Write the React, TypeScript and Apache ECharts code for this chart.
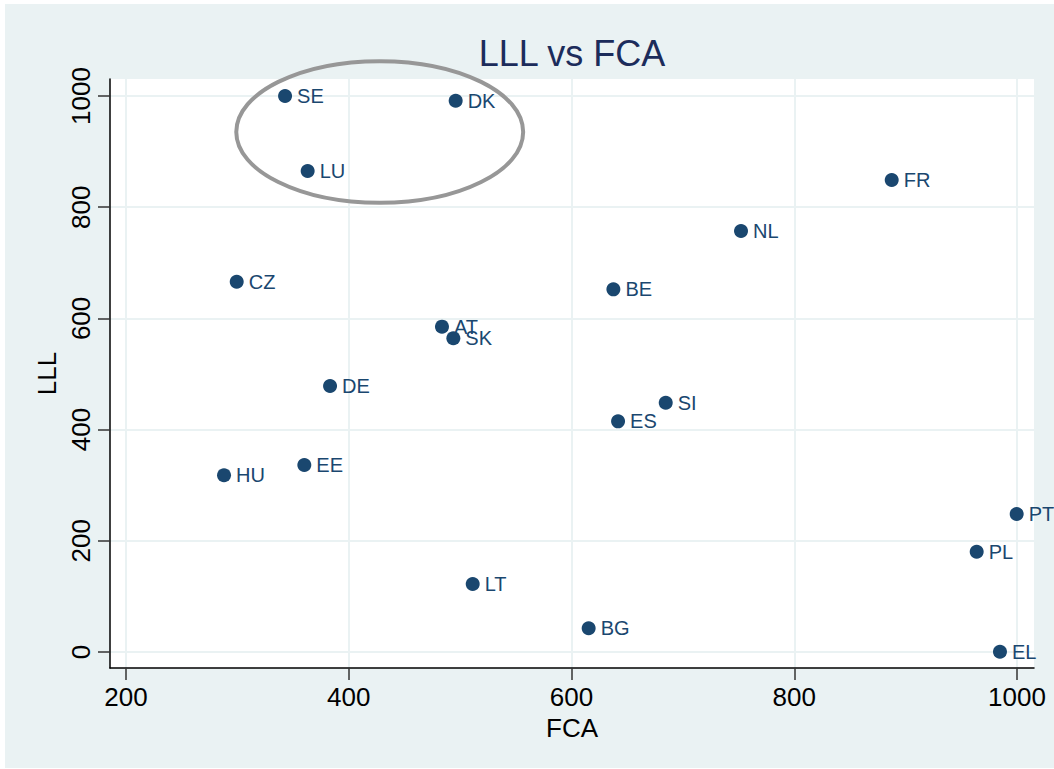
import React, { useEffect, useRef } from 'react';
import * as echarts from 'echarts';

const countries = ['SE', 'DK', 'LU', 'FR', 'NL', 'CZ', 'BE', 'AT', 'SK', 'DE', 'SI', 'ES', 'EE', 'HU', 'PT', 'PL', 'LT', 'BG', 'EL'];
const fca = [342.8, 496.0, 363.1, 887.5, 752.2, 299.4, 637.6, 483.7, 493.9, 383.2, 684.6, 641.8, 360.1, 288.0, 999.7, 963.8, 511.3, 615.4, 984.7];
const lll = [1000, 991.5, 865.1, 848.9, 757.2, 666.0, 652.3, 585.1, 564.2, 478.4, 448.4, 414.9, 336.3, 317.8, 248.2, 180.4, 122.3, 42.6, 0.5];
const xTicks = [200, 400, 600, 800, 1000];
const yTicks = [0, 200, 400, 600, 800, 1000];
// highlight ellipse in data units: centre (FCA, LLL) and radii
const ellipseCenter = [427.8, 935.3];
const ellipseRadius = [128.8, 127.4];

const FONT = '"Liberation Sans", Arial, Helvetica, sans-serif';
const NAVY = '#1a476f';
const GRID = '#eaf2f3';

export default function App() {
  const ref = useRef<HTMLDivElement>(null);
  useEffect(() => {
    document.body.style.margin = '0';
    const chart = echarts.init(ref.current!, null, { renderer: 'svg' });
    chart.setOption({
      animation: false,
      backgroundColor: '#ffffff',
      grid: { left: 110, top: 79, width: 924, height: 589, show: true, backgroundColor: '#ffffff', borderWidth: 0, containLabel: false },
      xAxis: {
        type: 'value', min: 185.63, max: 1015.26, position: 'bottom',
        name: 'FCA', nameLocation: 'middle', nameGap: 40,
        nameTextStyle: { fontFamily: FONT, fontSize: 26, color: '#000' },
        axisLine: { show: true, onZero: false, lineStyle: { color: '#000', width: 1.5 } },
        axisTick: { show: true, length: 12, customValues: xTicks, lineStyle: { color: '#333', width: 1.5 } },
        axisLabel: { customValues: xTicks, formatter: (v: number) => String(v), fontSize: 26, color: '#000', margin: 16, fontFamily: FONT },
        splitLine: { show: true, lineStyle: { color: GRID, width: 2 } },
      },
      yAxis: {
        type: 'value', min: -28.78, max: 1030.58, position: 'left',
        name: 'LLL', nameLocation: 'middle', nameGap: 48,
        nameTextStyle: { fontFamily: FONT, fontSize: 26, color: '#000' },
        axisLine: { show: true, onZero: false, lineStyle: { color: '#000', width: 1.5 } },
        axisTick: { show: true, length: 12, customValues: yTicks, lineStyle: { color: '#333', width: 1.5 } },
        axisLabel: { customValues: yTicks, formatter: (v: number) => String(v), fontSize: 26, color: '#000', margin: 16, rotate: 90, fontFamily: FONT },
        splitLine: { show: true, lineStyle: { color: GRID, width: 2 } },
      },
      series: [{
        type: 'scatter',
        data: countries.map((c, i) => [fca[i], lll[i], c]),
        symbolSize: 14,
        clip: false,
        itemStyle: { color: NAVY, opacity: 1 },
        label: {
          show: true, position: 'right', distance: 5,
          formatter: (p: any) => p.data[2],
          color: NAVY, fontSize: 20, fontFamily: FONT, opacity: 1,
        },
      }],
      graphic: [
        { id: 'bg', type: 'rect', z: -10, shape: { x: 5, y: 4, width: 1049, height: 764 }, style: { fill: GRID } },
        {
          id: 'title', type: 'text', z: 100, x: 572, y: 53,
          style: { text: 'LLL vs FCA', font: `36px ${FONT}`, fill: '#1c2c5b', align: 'center', verticalAlign: 'middle', textAlign: 'center', textVerticalAlign: 'middle' },
        },
      ],
    });
    const c = chart.convertToPixel({ gridIndex: 0 }, ellipseCenter) as number[];
    const e = chart.convertToPixel({ gridIndex: 0 }, [ellipseCenter[0] + ellipseRadius[0], ellipseCenter[1] + ellipseRadius[1]]) as number[];
    chart.setOption({
      graphic: [
        {
          id: 'ellipse', type: 'ellipse', z: 100,
          shape: { cx: c[0], cy: c[1], rx: Math.abs(e[0] - c[0]), ry: Math.abs(e[1] - c[1]) },
          style: { fill: 'none', stroke: '#979797', lineWidth: 4 },
        },
      ],
    });
    return () => chart.dispose();
  }, []);
  return <div ref={ref} style={{ width: 1054, height: 769 }} />;
}
